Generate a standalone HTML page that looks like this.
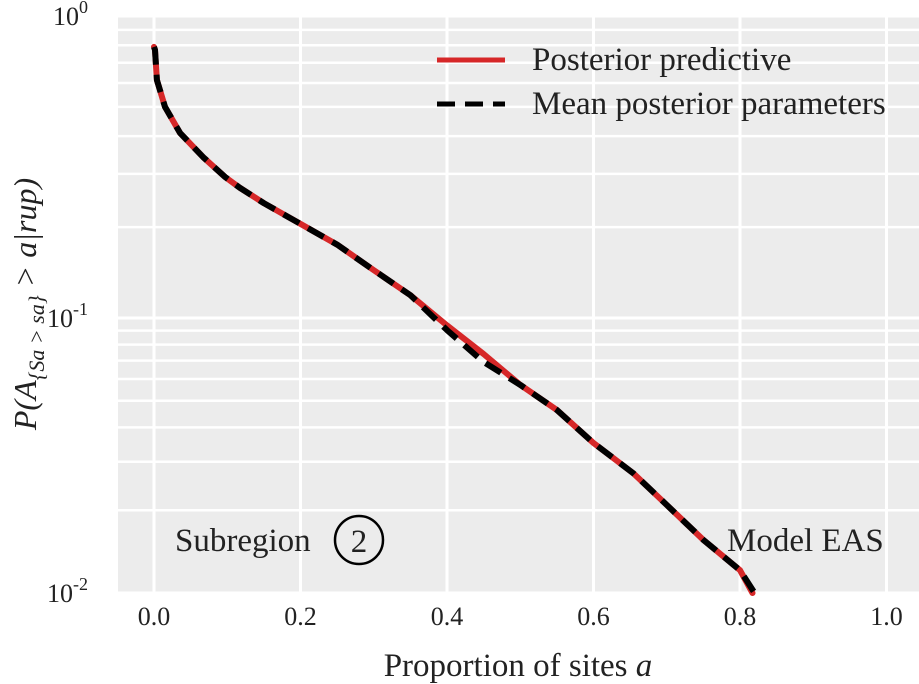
<!DOCTYPE html>
<html><head><meta charset="utf-8"><style>
body{margin:0;background:#fff}
svg{display:block;font-family:"Liberation Serif",serif}
</style></head><body>
<svg id="c" width="919" height="684">
<rect x="118" y="15" width="801" height="578" fill="#ececec"/>
<g id="grid"></g>
<g id="xt"></g>
<g id="yt"></g>
<g id="series"></g>
<g>
<line x1="437" y1="60" x2="505" y2="60" stroke="#d62728" stroke-width="5"/>
<text x="532" y="70" font-size="33" fill="#222">Posterior predictive</text>
<line x1="437" y1="104" x2="505" y2="104" stroke="#000" stroke-width="5" stroke-dasharray="18,10"/>
<text x="532" y="114" font-size="33" fill="#222">Mean posterior parameters</text>
</g>
<text x="175" y="551" font-size="33" fill="#222">Subregion</text>
<circle cx="359" cy="540" r="24" fill="none" stroke="#000" stroke-width="2.5"/>
<text x="359" y="552" font-size="33" text-anchor="middle" fill="#222">2</text>
<text x="727" y="551" font-size="33" fill="#222">Model EAS</text>
<text x="518" y="676" font-size="33" text-anchor="middle" fill="#222">Proportion of sites <tspan font-style="italic">a</tspan></text>
<text transform="translate(36,304) rotate(-90)" font-size="32" text-anchor="middle" fill="#222" font-style="italic">P(A<tspan font-size="22" dy="8">{Sa &gt; sa}</tspan><tspan dy="-8"> &gt; a|rup)</tspan></text>
</svg>
<script>
const xTicks=[0,0.2,0.4,0.6,0.8,1.0];
const xTickLabels=["0.0","0.2","0.4","0.6","0.8","1.0"];
const yDecades=[0,-1,-2];
const yTickLabels=["0","-1","-2"];
const redA=[0,0.0014,0.004,0.015,0.0355,0.067,0.097,0.117,0.15,0.2,0.25,0.3,0.35,0.4,0.45,0.5,0.55,0.6,0.654,0.7,0.75,0.8,0.817];
const redP=[0.79,0.772,0.614,0.50,0.41,0.341,0.293,0.27,0.24,0.205,0.175,0.144,0.119,0.094,0.074,0.0571,0.0463,0.0351,0.0273,0.0209,0.0156,0.0121,0.01];
const blackA=[0,0.0014,0.004,0.015,0.0355,0.067,0.097,0.117,0.15,0.2,0.25,0.3,0.35,0.4,0.45,0.5,0.55,0.6,0.654,0.7,0.75,0.8,0.82];
const blackP=[0.79,0.772,0.614,0.50,0.41,0.341,0.293,0.27,0.24,0.205,0.175,0.144,0.119,0.0904,0.0692,0.0571,0.0463,0.0351,0.0273,0.0209,0.0156,0.0121,0.01];
const NS="http://www.w3.org/2000/svg";
function X(a){return 154+a*732.5;}
function Y(p){const l=Math.log10(p);return l>=-1?16+(-l)*302:318+(-1-l)*275;}
function mk(t,at,parent){const e=document.createElementNS(NS,t);for(const k in at)e.setAttribute(k,at[k]);parent.appendChild(e);return e;}
const grid=document.getElementById('grid'),xt=document.getElementById('xt'),yt=document.getElementById('yt'),ser=document.getElementById('series');
for(let d=0;d>-2;d--){for(let m=2;m<=9;m++){const y=Y(m*Math.pow(10,d-1));
const g=mk('line',{x1:118,x2:919,y1:y,y2:y,stroke:'#fff','stroke-width':2.5},grid);

}}
yDecades.forEach((d,i)=>{const y=Y(Math.pow(10,d));
const g=mk('line',{x1:118,x2:919,y1:y,y2:y,stroke:'#fff','stroke-width':3},grid);


const t=mk('text',{x:88,y:y+9,'font-size':26,'text-anchor':'end',fill:'#222'},yt);


t.textContent='10';const s=mk('tspan',{'font-size':18,dy:-12},t);s.textContent=yTickLabels[i];});
xTicks.forEach((a,i)=>{const x=X(a);
const g=mk('line',{x1:x,x2:x,y1:15,y2:593,stroke:'#fff','stroke-width':3},grid);


const t=mk('text',{x:x,y:625,'font-size':26,'text-anchor':'middle',fill:'#222'},xt);


t.textContent=xTickLabels[i];});
function path(A,P){return A.map((a,i)=>(i?'L':'M')+X(a).toFixed(1)+','+Y(P[i]).toFixed(1)).join('');}
const r=mk('path',{d:path(redA,redP),fill:'none',stroke:'#d62728','stroke-width':6,'stroke-linejoin':'round','stroke-linecap':'round'},ser);


const b=mk('path',{d:path(blackA,blackP),fill:'none',stroke:'#000','stroke-width':6,'stroke-linejoin':'round','stroke-dasharray':'18,10'},ser);


</script>
</body></html>
